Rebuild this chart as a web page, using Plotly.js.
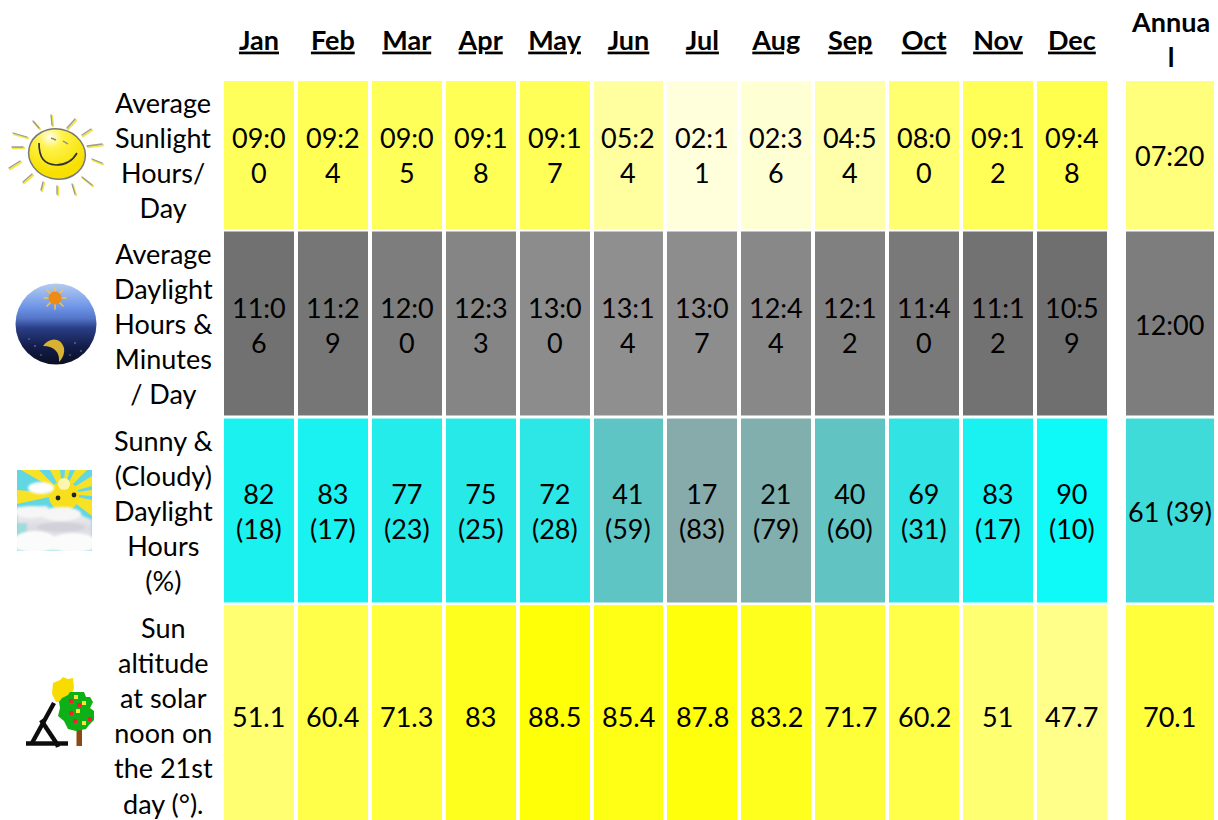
<!DOCTYPE html>
<html>
<head>
<meta charset="utf-8">
<script src="https://cdn.plot.ly/plotly-3.0.1.min.js"></script>
<style>html,body{margin:0;padding:0;background:#fff;overflow:hidden}#chart{width:1218px;height:820px}</style>
</head>
<body>
<div id="chart"></div>
<script>
var months = ['Jan','Feb','Mar','Apr','May','Jun','Jul','Aug','Sep','Oct','Nov','Dec'];
var annualLabel = 'Annua<br>l';

var sunlightTimes = ['09:00','09:24','09:05','09:18','09:17','05:24','02:11','02:36','04:54','08:00','09:12','09:48'];
var sunlightAnnual = '07:20';
var daylightTimes = ['11:06','11:29','12:00','12:33','13:00','13:14','13:07','12:44','12:12','11:40','11:12','10:59'];
var daylightAnnual = '12:00';
var sunnyPct = [82,83,77,75,72,41,17,21,40,69,83,90];
var cloudyPct = [18,17,23,25,28,59,83,79,60,31,17,10];
var sunnyAnnual = 61;
var cloudyAnnual = 39;
var altitude = [51.1,60.4,71.3,83,88.5,85.4,87.8,83.2,71.7,60.2,51,47.7];
var altitudeAnnual = 70.1;

var rowLabels = [
  'Average<br>Sunlight<br>Hours/<br>Day',
  'Average<br>Daylight<br>Hours &<br>Minutes<br>/ Day',
  'Sunny &<br>(Cloudy)<br>Daylight<br>Hours<br>(%)',
  'Sun<br>altitude<br>at solar<br>noon on<br>the 21st<br>day (°).'
];

/* layout geometry */
var W = 1218, H = 820, ML = 222, MR = 2, MT = 80;
var PW = W - ML - MR, PH = H - MT;
var colEdges = [0,1,2,3,4,5,6,7,8,9,10,11,12,12.2,13.45];
var rowEdges = [0,150.5,337.5,524,741.5];
var labelShift = [0,-1,-0.5,2.5];
var cellShift = [0,0.5,0.5,4];
var FONT = 'Lato, Carlito, sans-serif';
var FS = 27;

function mins(t){ var p = t.split(':'); return (+p[0])*60 + (+p[1]); }
function wrap(t){ return t.slice(0,4) + '<br>' + t.slice(4); }

var annotations = [];
function row(i, zs, zAnnual, texts, textAnnual, scale, zmin, zmax){
  texts.concat([null, textAnnual]).forEach(function(t,c){
    if (t === null) return;
    annotations.push({xref:'x',yref:'y',x:(colEdges[c]+colEdges[c+1])/2,y:(rowEdges[i]+rowEdges[i+1])/2,yshift:-cellShift[i],
      text:t,showarrow:false,xanchor:'center',yanchor:'middle',align:'center',font:{family:FONT,size:FS,color:'#000'}});
  });
  return {
    type:'heatmap', x:colEdges, y:[rowEdges[i],rowEdges[i+1]],
    z:[zs.concat([null, zAnnual])],
    colorscale:scale, zmin:zmin, zmax:zmax, showscale:false,
    xgap:4, ygap:3, hoverinfo:'skip'
  };
}

var traces = [
  row(0, sunlightTimes.map(mins), mins(sunlightAnnual), sunlightTimes.map(wrap), sunlightAnnual,
      [[0,'#FFFFDC'],[1,'#FFFF4D']], 131, 588),
  row(1, daylightTimes.map(mins), mins(daylightAnnual), daylightTimes.map(wrap), daylightAnnual,
      [[0,'#6F6F6F'],[1,'#8F8F8F']], 659, 794),
  row(2, sunnyPct, sunnyAnnual, sunnyPct.map(function(s,i){return s+'<br>('+cloudyPct[i]+')';}), sunnyAnnual+' ('+cloudyAnnual+')',
      [[0,'#87ABAA'],[1,'#0EFAF8']], 17, 90),
  row(3, altitude, altitudeAnnual, altitude.map(String), String(altitudeAnnual),
      [[0,'#FFFF8A'],[0.08,'#FFFF72'],[0.304,'#FFFF4A'],[0.574,'#FFFF3A'],[0.868,'#FFFF1E'],[1,'#FFFF08']], 47.7, 88.5)
];

/* icons */
function svgUri(w,h,body){
  return 'data:image/svg+xml;utf8,' + encodeURIComponent('<svg xmlns="http://www.w3.org/2000/svg" width="'+w+'" height="'+h+'" viewBox="0 0 '+w+' '+h+'">'+body+'</svg>');
}
function img(src,x,y,w,h){
  return {source:src,xref:'paper',yref:'paper',x:(x-ML)/PW,y:1-(y-MT)/PH,sizex:w/PW,sizey:h/PH,xanchor:'left',yanchor:'top',sizing:'stretch',layer:'above'};
}
function rays(list,col,sw,dx,dy){
  return list.map(function(r){return '<line x1="'+(r[0]+dx)+'" y1="'+(r[1]+dy)+'" x2="'+(r[2]+dx)+'" y2="'+(r[3]+dy)+'" stroke="'+col+'" stroke-width="'+sw+'" stroke-linecap="round"/>';}).join('');
}
var soft = '<filter id="s"><feGaussianBlur stdDeviation="0.45"/></filter>';
var sunRays=[[51,5,52,15],[75,9,67,18],[91,19,82,25],[102,34,87,36],[102,53,92,49],[92,75,82,67],[75,84,72,74],[57,84,57,76],[41,80,43,72],[23,72,32,64],[9,58,20,51],[12,37,23,37],[13,23,27,27],[33,11,39,18]];
var sunSvg = svgUri(110,90,
  '<defs>'+soft+'<radialGradient id="g" cx="0.32" cy="0.2" r="0.7"><stop offset="0" stop-color="#FFFFF0"/><stop offset="0.32" stop-color="#FFF24A"/><stop offset="1" stop-color="#F7E000"/></radialGradient></defs>'+
  '<g filter="url(#s)">'+rays(sunRays,'#F2E64A',2.2,1,1.2)+rays(sunRays,'#9A9A9A',1.3,0,0)+
  '<ellipse cx="57" cy="44" rx="28.5" ry="25" transform="rotate(12 57 44)" fill="url(#g)" stroke="#777" stroke-width="1.5"/>'+
  '<path d="M39 33 C39 48 44 54 56 55 C66 55 73 50 77 43" fill="none" stroke="#333" stroke-width="1.7"/>'+
  '<path d="M51 28 L56 30 M63 31 L68 34" stroke="#888" stroke-width="1.4" fill="none"/></g>');

var moonSvg = svgUri(82,82,
  '<defs>'+soft+'<linearGradient id="m" x1="0" y1="0" x2="0" y2="1"><stop offset="0" stop-color="#B4CCF2"/><stop offset="0.3" stop-color="#6C93E6"/><stop offset="0.43" stop-color="#5576C8"/><stop offset="0.55" stop-color="#2A3E86"/><stop offset="0.78" stop-color="#121D4A"/><stop offset="1" stop-color="#0A1022"/></linearGradient></defs>'+
  '<circle cx="41" cy="41" r="40.5" fill="url(#m)"/>'+
  '<g filter="url(#s)">'+rays([[40,4,40,26],[29,15,51,15],[32,7,48,23],[48,7,32,23]],'#F3C24B',1.6,0,0)+
  '<circle cx="40" cy="15" r="6.5" fill="#EE8A12"/>'+
  '<path d="M28 63 C34 54 46 54 49 65 C50 71 47 76 44 79 C45 70 40 63 28 63 Z" fill="#D9B233"/>'+
  '<g fill="#8893B5"><circle cx="20" cy="63" r="0.8"/><circle cx="60" cy="60" r="0.8"/><circle cx="14" cy="56" r="0.7"/><circle cx="66" cy="68" r="0.8"/><circle cx="26" cy="72" r="0.7"/><circle cx="55" cy="72" r="0.7"/></g></g>');

var cloudSvg = svgUri(75,81,
  '<defs><filter id="b"><feGaussianBlur stdDeviation="1.1"/></filter><filter id="c"><feGaussianBlur stdDeviation="0.7"/></filter><linearGradient id="cg" x1="0" y1="0" x2="0" y2="1"><stop offset="0" stop-color="#F4F4F4"/><stop offset="0.5" stop-color="#DCDBE2"/><stop offset="1" stop-color="#F2F2F2"/></linearGradient></defs>'+
  '<rect width="75" height="81" fill="#62D6E2"/>'+
  '<g filter="url(#c)"><path d="M46 24 L4 0 L22 0 Z M46 24 L33 0 L43 0 Z M46 24 L48 0 L53 0 Z M46 24 L58 0 L70 0 Z M46 24 L75 6 L75 16 Z M46 24 L0 20 L0 34 Z M46 24 L75 30 L75 46 Z M46 24 L75 20 L75 26 Z" fill="#F8E226"/>'+
  '<circle cx="47" cy="26" r="15" fill="#F8DF1C"/><circle cx="47" cy="14" r="6" fill="#FDF6B0"/></g>'+
  '<g filter="url(#b)"><ellipse cx="24" cy="18" rx="13" ry="6" fill="#FFFFFF"/>'+
  '<path d="M0 37 L30 36 L35 46 Q42 36 50 37 Q58 38 66 46 L75 50 L75 81 L0 81 Z" fill="url(#cg)"/>'+
  '<rect x="0" y="53" width="10" height="14" fill="#9FDCDC"/>'+
  '<ellipse cx="44" cy="44" rx="20" ry="7" fill="#F6F6F6"/><ellipse cx="14" cy="42" rx="16" ry="6" fill="#F6F6F6"/>'+
  '<ellipse cx="18" cy="72" rx="22" ry="11" fill="#FBFBFB"/><ellipse cx="56" cy="73" rx="24" ry="10" fill="#FBFBFB"/>'+
  '<ellipse cx="44" cy="57" rx="24" ry="5" fill="#D2D1DA"/></g>'+
  '<g filter="url(#c)"><circle cx="41" cy="28" r="2.4" fill="#222"/><circle cx="57" cy="25" r="2.4" fill="#222"/></g>');

function dots(list,col){return list.map(function(d){return '<rect x="'+(d[0]-2)+'" y="'+(d[1]-2)+'" width="4" height="4" fill="'+col+'"/>';}).join('');}
var treeSvg = svgUri(110,100,
  '<defs>'+soft+'</defs><g filter="url(#s)">'+
  '<path d="M52 34 L53 23 L60 20 L63 17 L68 19 L73 18 L74 28 L71 36 L62 42 L56 42 Z" fill="#F8DC00"/>'+
  '<g stroke="#111" stroke-width="4.4" fill="none"><path d="M54 43 L32 83"/><path d="M26 83.5 L68 83.5"/><path d="M41 60 L57 84"/><path d="M57 84 L58 87"/></g>'+
  '<rect x="76.5" y="68" width="5.5" height="18" fill="#8B4A12"/>'+
  '<path d="M62 38 L68 35 L70 32 L84 32 L86 37 L90 37 L93 42 L90 48 L94 51 L94 60 L89 65 L86 69 L76 71 L68 69 L64 61 L58 56 L60 48 L59 42 Z" fill="#0DB012"/>'+
  dots([[71,41],[79,45],[71,53],[75,61],[90,59]],'#EE2030')+
  dots([[76,37],[84,43],[78,51],[84,63]],'#F6E832')+'</g>');

rowLabels.forEach(function(t,i){
  annotations.push({xref:'paper',yref:'y',x:(163-ML)/PW,y:(rowEdges[i]+rowEdges[i+1])/2,yshift:-labelShift[i],text:t,showarrow:false,
          xanchor:'center',yanchor:'middle',align:'center',font:{family:FONT,size:FS,color:'#000'}});
});
annotations.push({xref:'paper',yref:'paper',x:(1170-ML)/PW,y:1+(MT-39)/PH,text:annualLabel,showarrow:false,
  xanchor:'center',yanchor:'middle',align:'center',font:{family:FONT,size:FS,color:'#000',weight:'bold'}});

var layout = {
  width:W,height:H,margin:{l:ML,r:MR,t:MT,b:0,pad:0},
  paper_bgcolor:'#fff',plot_bgcolor:'#fff',showlegend:false,
  xaxis:{range:[0,13.45],side:'top',showgrid:false,zeroline:false,showline:false,ticks:'',
    tickmode:'array',tickvals:months.map(function(m,i){return i+0.5;}),ticktext:months,tickangle:0,
    tickfont:{family:FONT,size:FS,color:'#000',weight:'bold',lineposition:'under'},ticklabelstandoff:24},
  yaxis:{range:[740,0],showgrid:false,zeroline:false,showline:false,showticklabels:false,ticks:''},
  annotations:annotations,
  images:[img(sunSvg,0,110,110,90),img(moonSvg,15,283,82,82),img(cloudSvg,17,470,75,81),img(treeSvg,0,660,110,100)]
};
Plotly.newPlot('chart',traces,layout,{displayModeBar:false,staticPlot:true});
</script>
</body>
</html>
